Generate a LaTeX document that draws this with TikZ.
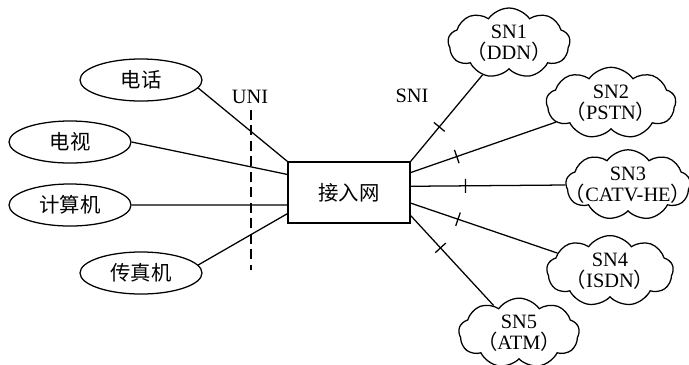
\documentclass[tikz,border=0pt]{standalone}
\usepackage{fontspec}
\setmainfont{Liberation Serif}
\newfontfamily\cjk{Noto Sans CJK SC}
\usetikzlibrary{shapes.geometric,shapes.symbols,calc,decorations.markings}

\begin{document}
\begin{tikzpicture}[x=0.025cm, y=-0.025cm, line width=0.9pt,
    termnode/.style={ellipse, draw, minimum width=3.05cm, minimum height=1.05cm, inner sep=0pt,
      font=\cjk\fontsize{14.5}{16}\selectfont},
    netbox/.style={rectangle, draw, minimum width=3.05cm, minimum height=1.525cm,
      font=\cjk\fontsize{14.5}{16}\selectfont},
    snnode/.style={cloud, draw, cloud puffs=9, cloud puff arc=110, cloud ignores aspect,
      minimum width=2.95cm, minimum height=1.7cm, inner sep=0pt, align=center,
      font=\fontsize{14.5}{15}\selectfont},
    ifacelabel/.style={font=\fontsize{14.5}{16}\selectfont},
    snimark/.style={postaction={decorate}, decoration={markings,
      mark=at position #1 with {\draw[line width=0.9pt] (0,-5pt) -- (0,5pt);}}}
  ]
    \useasboundingbox (0,0) rectangle (689,364);

    \node[termnode] (dianhua)   at (141,80)  {电话};
    \node[termnode] (dianshi)   at (70,142)  {电视};
    \node[termnode] (jisuanji)  at (70,205)  {计算机};
    \node[termnode] (chuanzhen) at (141,273) {传真机};

    \node[netbox] (jieru) at (349,192.5) {接入网};

    \node[snnode] (sn1) at (509,43)  {SN1\\{\cjk （}DDN{\cjk ）}};
    \node[snnode] (sn2) at (611,103) {SN2\\{\cjk （}PSTN{\cjk ）}};
    \node[snnode, inner xsep=-14pt] (sn3) at (628,185) {SN3\\{\cjk （}CATV-HE{\cjk ）}};
    \node[snnode] (sn4) at (610,271) {SN4\\{\cjk （}ISDN{\cjk ）}};
    \node[snnode] (sn5) at (519,333) {SN5\\{\cjk （}ATM{\cjk ）}};

    \node[ifacelabel] (uni) at (250,97) {UNI};
    \node[ifacelabel] (sni) at (412,96) {SNI};
    \coordinate (unitop) at (251,110);
    \coordinate (unibot) at (251,270);
    \draw[dash pattern=on 7pt off 4pt] (unitop) -- (unibot);

    \draw (dianhua.-8)  -- (jieru.north west);
    \draw (dianshi.east) -- ($(jieru.north west)!0.21!(jieru.south west)$);
    \draw (jisuanji.east) -- ($(jieru.north west)!0.7!(jieru.south west)$);
    \draw (chuanzhen.8) -- ($(jieru.north west)!0.84!(jieru.south west)$);

    \draw[snimark=1.12cm] (jieru.north east) -- (sn1);
    \draw[snimark=1.22cm] ($(jieru.north east)!0.18!(jieru.south east)$) -- (sn2);
    \draw[snimark=1.37cm] ($(jieru.north east)!0.4!(jieru.south east)$) -- (sn3.west);
    \draw[snimark=1.25cm] ($(jieru.north east)!0.67!(jieru.south east)$) -- (sn4);
    \draw[snimark=1.1cm]  ($(jieru.north east)!0.87!(jieru.south east)$) -- (sn5);
  \end{tikzpicture}
\end{document}
